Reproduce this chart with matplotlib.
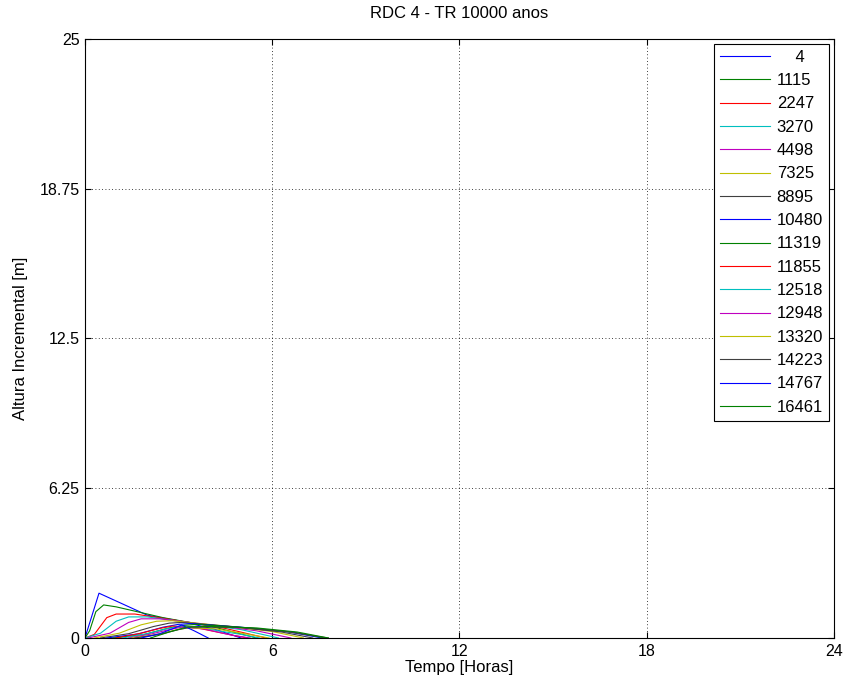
import matplotlib
matplotlib.use("Agg")
import matplotlib.pyplot as plt

plt.rcParams['font.family'] = ['Liberation Sans', 'DejaVu Sans']

title = "RDC 4 - TR 10000 anos"
xlabel = "Tempo [Horas]"
ylabel = "Altura Incremental [m]"
xticks = [0, 6, 12, 18, 24]
yticks = [0, 6.25, 12.5, 18.75, 25]
ytick_labels = ["0", "6.25", "12.5", "18.75", "25"]

labels = ["4", "1115", "2247", "3270", "4498", "7325", "8895", "10480",
          "11319", "11855", "12518", "12948", "13320", "14223", "14767", "16461"]

t_4 = [0, 0.45, 2.0, 3.0, 4.2, 5.0]
h_4 = [0, 1.87, 0.95, 0.72, 0.35, 0]
t_1115 = [0, 0.15, 0.35, 0.6, 1.0, 2.5, 4.0, 5.5]
h_1115 = [0, 0.3, 1.1, 1.38, 1.3, 0.85, 0.5, 0]
t_2247 = [0, 0.3, 0.7, 1.0, 1.6, 3.0, 4.5, 5.8]
h_2247 = [0, 0.15, 0.85, 1.0, 1.0, 0.72, 0.4, 0]
t_3270 = [0, 0.5, 1.0, 1.4, 2.0, 3.5, 5.0, 6.2]
h_3270 = [0, 0.2, 0.7, 0.88, 0.88, 0.62, 0.35, 0]
t_4498 = [0.1, 0.8, 1.4, 1.8, 2.4, 4.0, 5.5, 6.6]
h_4498 = [0, 0.2, 0.65, 0.8, 0.8, 0.55, 0.3, 0]
t_7325 = [0.3, 1.1, 1.8, 2.3, 2.8, 4.5, 6.0, 7.0]
h_7325 = [0, 0.2, 0.55, 0.7, 0.72, 0.5, 0.27, 0]
t_8895 = [0.5, 1.4, 2.2, 2.7, 3.1, 4.8, 6.3, 7.3]
h_8895 = [0, 0.18, 0.48, 0.62, 0.65, 0.47, 0.25, 0]
t_10480 = [0.7, 1.7, 2.5, 3.0, 3.4, 5.0, 6.5, 7.6]
h_10480 = [0, 0.17, 0.45, 0.57, 0.6, 0.45, 0.26, 0]
t_11319 = [0.9, 1.9, 2.7, 3.2, 3.6, 5.2, 6.7, 7.7]
h_11319 = [0, 0.15, 0.42, 0.53, 0.57, 0.43, 0.24, 0]
t_11855 = [1.0, 1.8, 2.4, 2.8, 3.6, 4.6, 5.2]
h_11855 = [0, 0.2, 0.4, 0.5, 0.42, 0.15, 0]
t_12518 = [1.2, 2.0, 2.6, 3.0, 3.8, 5.0, 5.6]
h_12518 = [0, 0.18, 0.38, 0.47, 0.4, 0.15, 0]
t_12948 = [1.4, 2.1, 2.7, 3.1, 3.8, 4.7, 5.3]
h_12948 = [0, 0.16, 0.35, 0.45, 0.38, 0.12, 0]
t_13320 = [1.5, 2.3, 2.9, 3.3, 4.2, 5.3, 5.9]
h_13320 = [0, 0.15, 0.33, 0.43, 0.38, 0.14, 0]
t_14223 = [1.6, 2.4, 3.0, 3.4, 4.8, 6.5, 7.8]
h_14223 = [0, 0.15, 0.35, 0.45, 0.45, 0.26, 0]
t_14767 = [1.8, 2.4, 2.8, 3.1, 3.5, 3.95]
h_14767 = [0, 0.18, 0.38, 0.54, 0.3, 0]
t_16461 = [2.1, 2.7, 3.3, 4.0, 5.5, 6.8, 7.8]
h_16461 = [0, 0.25, 0.47, 0.48, 0.42, 0.25, 0]

series_t = [t_4, t_1115, t_2247, t_3270, t_4498, t_7325, t_8895, t_10480,
            t_11319, t_11855, t_12518, t_12948, t_13320, t_14223, t_14767, t_16461]
series_h = [h_4, h_1115, h_2247, h_3270, h_4498, h_7325, h_8895, h_10480,
            h_11319, h_11855, h_12518, h_12948, h_13320, h_14223, h_14767, h_16461]

colors = ["#0000ff", "#008000", "#ff0000", "#00bfbf", "#bf00bf", "#bfbf00", "#404040"]

fig = plt.figure(figsize=(8.58, 6.91), dpi=100)
ax = fig.add_axes([0.099, 0.0767, 0.873, 0.867])

for i, (t, h, lab) in enumerate(zip(series_t, series_h, labels)):
    ax.plot(t, h, color=colors[i % 7], lw=0.8,
            label=("    " + lab) if len(lab) == 1 else lab)

ax.set_xlim(0, 24)
ax.set_ylim(0, 25)
ax.set_xticks(xticks)
ax.set_yticks(yticks)
ax.set_yticklabels(ytick_labels)
ax.grid(True, linestyle=(0, (1, 3)), color="black", lw=0.6)
ax.tick_params(direction="in", labelsize=11.5, length=4, top=True, right=True, pad=4)
ax.set_title(title, fontsize=12, pad=15)
ax.set_xlabel(xlabel, fontsize=12, labelpad=1)
ax.set_ylabel(ylabel, fontsize=12, labelpad=8)
for sp in ax.spines.values():
    sp.set_linewidth(0.8)

leg = ax.legend(loc="upper right", fontsize=12, handlelength=3.0, labelspacing=0.5,
                borderaxespad=0.3, fancybox=False, edgecolor="black", framealpha=1,
                handletextpad=0.4, borderpad=0.35)
leg.get_frame().set_linewidth(0.8)

fig.savefig("out.png", dpi=100)
